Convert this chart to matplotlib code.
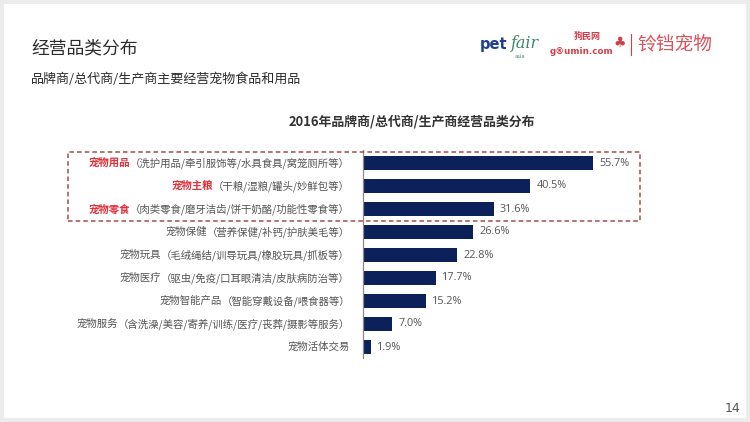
import matplotlib
matplotlib.use("Agg")
import matplotlib.pyplot as plt
from matplotlib.patches import Rectangle
from matplotlib.transforms import IdentityTransform
from matplotlib.lines import Line2D

plt.rcParams['font.family'] = ['Noto Sans CJK SC', 'DejaVu Sans']

# ---- data ----
names = ["宠物用品", "宠物主粮", "宠物零食", "宠物保健", "宠物玩具",
         "宠物医疗", "宠物智能产品", "宠物服务", "宠物活体交易"]
details = ["（洗护用品/牵引服饰等/水具食具/窝笼厕所等）",
           "（干粮/湿粮/罐头/妙鲜包等）",
           "（肉类零食/磨牙洁齿/饼干奶酪/功能性零食等）",
           "（营养保健/补钙/护肤美毛等）",
           "（毛绒绳结/训导玩具/橡胶玩具/抓板等）",
           "（驱虫/免疫/口耳眼清洁/皮肤病防治等）",
           "（智能穿戴设备/喂食器等）",
           "（含洗澡/美容/寄养/训练/医疗/丧葬/摄影等服务）",
           ""]
values = [55.7, 40.5, 31.6, 26.6, 22.8, 17.7, 15.2, 7.0, 1.9]
highlight = [True, True, True, False, False, False, False, False, False]

title = "经营品类分布"
subtitle = "品牌商/总代商/生产商主要经营宠物食品和用品"
chart_title = "2016年品牌商/总代商/生产商经营品类分布"
page_no = "14"

W, H = 750, 422
DPI = 100
fig = plt.figure(figsize=(W / DPI, H / DPI), dpi=DPI)
fig.patch.set_facecolor("#ececec")

def fx(px):
    return px / W

def fy(py):
    return 1 - py / H

# white slide
fig.add_artist(Rectangle((fx(4), fy(418)), fx(742), (414) / H,
                         transform=fig.transFigure, facecolor="white",
                         edgecolor="none", zorder=0))

# titles
fig.text(fx(31), fy(48), title, fontsize=12.8, color="#2b2b2b", va="center", ha="left")
fig.text(fx(31), fy(79), subtitle, fontsize=9.4, color="#2b2b2b", va="center", ha="left")
fig.text(fx(412), fy(121), chart_title, fontsize=9.3, color="#333333",
         va="center", ha="center", fontweight="bold")

# logos (text approximations)
fig.text(fx(480), fy(44), "pet", fontsize=10.5, color="#1f3f8f", fontweight="bold",
         va="center", ha="left", family=["DejaVu Sans"])
fig.text(fx(511), fy(43), "fair", fontsize=11.5, color="#3a8a6a", style="italic",
         va="center", ha="left", family=["DejaVu Serif"])
fig.text(fx(515), fy(57), "asia", fontsize=4, color="#3a8a6a", va="center", ha="left")
fig.text(fx(587), fy(36), "狗民网", fontsize=6.5, color="#d0404a", fontweight="bold",
         va="center", ha="center")
fig.text(fx(581), fy(51), "g®umin.com", fontsize=6.3, color="#d0404a", fontweight="bold",
         va="center", ha="center", family=["DejaVu Sans"])
fig.text(fx(620), fy(43), "♣", fontsize=10, color="#d0404a", va="center", ha="center",
         family=["DejaVu Sans"])
fig.add_artist(Line2D([fx(631), fx(631)], [fy(34), fy(55)], transform=fig.transFigure,
                      color="#d0404a", lw=0.8))
fig.text(fx(637), fy(44), "铃铛宠物", fontsize=13.5, color="#d9545c", va="center", ha="left")

# page number
fig.text(fx(740), fy(408), page_no, fontsize=9, color="#555555", va="center", ha="right",
         family=["DejaVu Sans"])

# ---- bar chart ----
ax_left, ax_top, ax_w, ax_bot = 363, 150, 300, 358
ax = fig.add_axes([fx(ax_left), fy(ax_bot), fx(ax_w), (ax_bot - ax_top) / H])
ax.set_facecolor("none")
px_per_unit = 4.13
ax.set_xlim(0, ax_w / px_per_unit)
spacing = 23.0
ax.set_ylim(8 + (ax_bot - 347) / spacing, -(163 - ax_top) / spacing)
ypos = list(range(len(values)))
ax.barh(ypos, values, height=14 / spacing, color="#0c2059", zorder=2)
for s in ["top", "right", "bottom"]:
    ax.spines[s].set_visible(False)
ax.spines["left"].set_color("#8a8a8a")
ax.spines["left"].set_linewidth(0.9)
ax.set_xticks([])
ax.set_yticks([])

for y, v in zip(ypos, values):
    ax.annotate(f"{v:.1f}%", xy=(v, y), xytext=(4.5, 0), textcoords="offset points",
                va="center", ha="left", fontsize=7.8, color="#555555",
                family=["Open Sans", "DejaVu Sans"])

fig.canvas.draw()
renderer = fig.canvas.get_renderer()
label_right = 350
for y, n, d, h in zip(ypos, names, details, highlight):
    yd = ax.transData.transform((0, y))[1]
    x_right = label_right
    if d:
        t = fig.text(x_right, yd, d, transform=IdentityTransform(), fontsize=7.5,
                     color="#555555", va="center", ha="right")
        bb = t.get_window_extent(renderer)
        x_right = bb.x0
    fig.text(x_right, yd, n, transform=IdentityTransform(), fontsize=7.5,
             color="#e0303a" if h else "#555555",
             fontweight="bold" if h else "normal", va="center", ha="right")

# dashed highlight box
fig.add_artist(Rectangle((fx(68), fy(221)), fx(640 - 68), (221 - 152) / H,
                         transform=fig.transFigure, facecolor="none",
                         edgecolor="#a0504c", lw=1.1, linestyle=(0, (3, 2)), zorder=5))

fig.savefig("out.png", dpi=DPI, facecolor=fig.get_facecolor())
